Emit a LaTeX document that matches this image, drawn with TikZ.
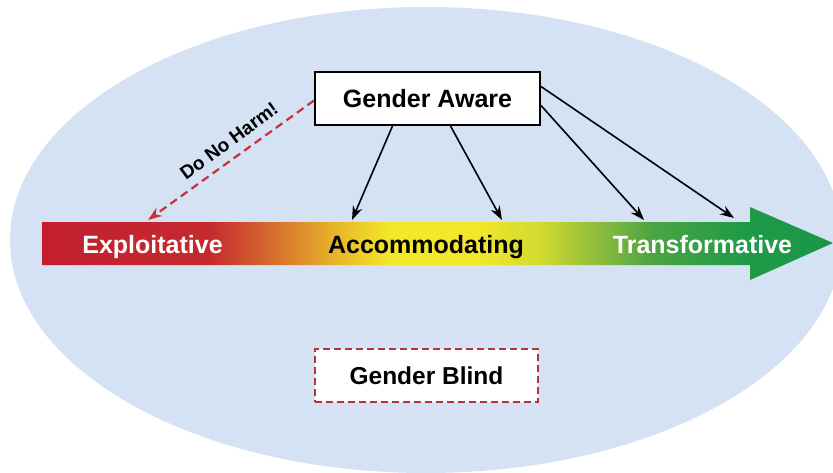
\documentclass[tikz,border=0pt]{standalone}
\usepackage{fontspec}
\setmainfont{Liberation Sans}
\usetikzlibrary{arrows.meta}

\definecolor{skyfill}{HTML}{D4E2F4}
\definecolor{harmred}{HTML}{C8303A}
\definecolor{blindred}{HTML}{B5323A}

% colour ramp of the continuum bar (25bp..75bp spans the bar)
\definecolor{cRed}{HTML}{C31E2F}
\definecolor{cRedB}{HTML}{C42A2F}
\definecolor{cOrange}{HTML}{D8742E}
\definecolor{cAmber}{HTML}{E8B42A}
\definecolor{cYellow}{HTML}{F3E82A}
\definecolor{cLime}{HTML}{D0DA30}
\definecolor{cGreenA}{HTML}{8CBB3C}
\definecolor{cGreenB}{HTML}{4CA443}
\definecolor{cGreenC}{HTML}{1E9A47}
\definecolor{cGreenD}{HTML}{1A9648}
\pgfdeclarehorizontalshading{continuumramp}{100bp}{%
  color(0bp)=(cRed); color(25bp)=(cRed); color(35.5bp)=(cRedB);
  color(40bp)=(cOrange); color(43.5bp)=(cAmber); color(47bp)=(cYellow);
  color(52.5bp)=(cYellow); color(56.5bp)=(cLime); color(60.3bp)=(cGreenA);
  color(63.5bp)=(cGreenB); color(69.5bp)=(cGreenC); color(75bp)=(cGreenD);
  color(100bp)=(cGreenD)}

\tikzset{
  labelbox/.style={draw=black, line width=2pt, fill=white, minimum width=225pt,
    minimum height=53pt, inner sep=0pt, font=\bfseries\fontsize{25}{28}\selectfont},
  blindbox/.style={draw=blindred, line width=1.6pt, dash pattern=on 7pt off 4pt,
    fill=white, minimum width=223pt, minimum height=53pt, inner sep=0pt,
    font=\bfseries\fontsize{24.5}{28}\selectfont},
  barlabel/.style={anchor=base, inner sep=0pt, font=\bfseries\fontsize{25}{28}\selectfont},
  pathway/.style={draw=black, line width=1.6pt, -{Stealth[length=14pt, width=10pt]}},
  harmpath/.style={draw=harmred, line width=2.2pt, dash pattern=on 8pt off 5pt,
    -{Stealth[length=14pt, width=10pt]}},
}

\begin{document}
\begin{tikzpicture}[x=1pt, y=-1pt]
  \useasboundingbox (0,0) rectangle (833,472);
  \fill[white] (0,0) rectangle (833,472);

  % background ellipse
  \fill[skyfill] (426,240) ellipse [x radius=416, y radius=233];

  % continuum arrow
  \shade[shading=continuumramp]
    (42,222) -- (750,222) -- (750,207) -- (833,243) -- (750,280) -- (750,265)
    -- (42,265) -- cycle;

  \node[barlabel, text=white] (exploit) at (152.5,253) {Exploitative};
  \node[barlabel, text=black] (accom) at (426,253) {Accommodating};
  \node[barlabel, text=white] (transf) at (702.5,253) {Transformative};

  % targets on the top edge of the bar
  \coordinate (tE) at (148,220);
  \coordinate (tA1) at (352,220);
  \coordinate (tA2) at (502,220);
  \coordinate (tT1) at (644,220);
  \coordinate (tT2) at (734,218);

  % boxes
  \node[labelbox] (aware) at (427.5,98.5) {Gender Aware};
  \node[blindbox] (blind) at (426.5,375.5) {Gender Blind};

  % pathways from the aware box
  \draw[pathway] ([xshift=-35pt]aware.south) -- (tA1);
  \draw[pathway] ([xshift=23pt]aware.south) -- (tA2);
  \draw[pathway] ([yshift=-7pt]aware.east) -- (tT1);
  \draw[pathway] ([yshift=12pt]aware.east) -- (tT2);
  \draw[harmpath] ([yshift=-2pt]aware.west) -- (tE);

  \node[rotate=36.5, inner sep=0pt, font=\bfseries\fontsize{19}{21}\selectfont]
    (harm) at (229,141) {Do No Harm!};
\end{tikzpicture}
\end{document}
